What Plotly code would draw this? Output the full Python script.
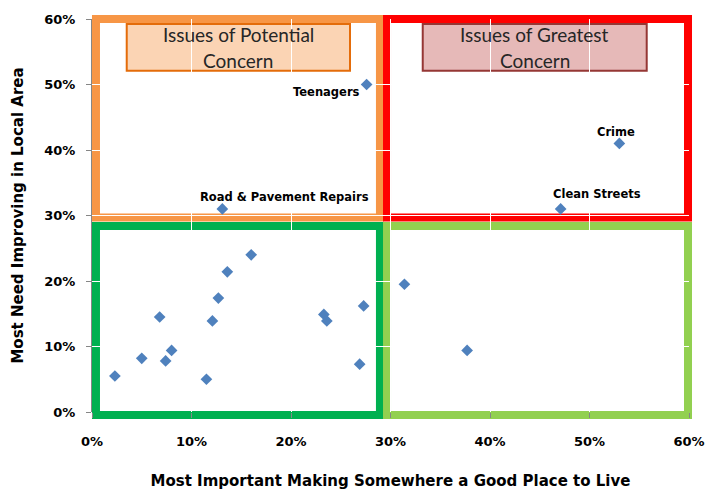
import plotly.graph_objects as go

# Issues named on the chart: share saying "most important" vs "most need improving"
labelled_issues = ["Teenagers", "Road & Pavement Repairs", "Crime", "Clean Streets"]
labelled_importance = [0.276, 0.131, 0.530, 0.471]
labelled_need = [0.500, 0.310, 0.410, 0.310]

# Remaining issues (unlabelled points)
other_importance = [0.023, 0.050, 0.068, 0.074, 0.080, 0.115, 0.121, 0.127,
                    0.136, 0.160, 0.233, 0.236, 0.273, 0.269, 0.314, 0.377]
other_need = [0.055, 0.082, 0.145, 0.078, 0.094, 0.050, 0.139, 0.174,
              0.214, 0.240, 0.149, 0.139, 0.162, 0.073, 0.195, 0.094]

axis_ticks = [0.0, 0.1, 0.2, 0.3, 0.4, 0.5, 0.6]
x_title = "Most Important Making Somewhere a Good Place to Live"
y_title = "Most Need Improving in Local Area"
quadrant_titles = [["Issues of Potential", "Concern"], ["Issues of Greatest", "Concern"]]

SPLIT = 0.30
AX_MAX = 0.60

MARKER = "#4F81BD"
BOLD = dict(family="DejaVu Sans", weight="bold", color="black")


def frac(v):
    """Data value -> fraction of the plotting area (both axes share 0..AX_MAX)."""
    return v / AX_MAX


fig = go.Figure()

all_x = other_importance + labelled_importance
all_y = other_need + labelled_need
fig.add_trace(go.Scatter(
    x=all_x, y=all_y, mode="markers",
    marker=dict(symbol="diamond", size=9, color=MARKER, line=dict(width=0)),
    hoverinfo="x+y", showlegend=False,
))

# Quadrant frames (thick coloured borders); paper refs so the outer half of
# each border is not clipped at the plot edge
lw = 8
in_l, in_r = 0.004, 0.599
gap_l, gap_r = SPLIT - 0.0106, SPLIT - 0.0035
top_lo, bot_hi = SPLIT - 0.003, SPLIT - 0.016
frames = [
    (in_l, gap_l, top_lo, AX_MAX, "#F79646"),
    (gap_r, in_r, top_lo, AX_MAX, "#FF0000"),
    (in_l, gap_l, -0.0046, bot_hi, "#00B050"),
    (gap_r, in_r, -0.0046, bot_hi, "#92D050"),
]
shapes = []
for x0, x1, y0, y1, c in frames:
    shapes.append(dict(type="rect", xref="paper", yref="paper",
                       x0=frac(x0), x1=frac(x1), y0=frac(y0), y1=frac(y1),
                       line=dict(color=c, width=lw), fillcolor="rgba(0,0,0,0)",
                       layer="below"))

# Title boxes in the two upper quadrants
boxes = [
    (0.0349, 0.2593, "#FBD4B4", "#E46C0A"),
    (0.3324, 0.5575, "#E6B9B8", "#953735"),
]
annotations = []
for (x0, x1, fill, edge), lines in zip(boxes, quadrant_titles):
    shapes.append(dict(type="rect", xref="paper", yref="paper",
                       x0=frac(x0), x1=frac(x1), y0=frac(0.5211), y1=frac(0.5924),
                       line=dict(color=edge, width=2), fillcolor=fill, layer="below"))
    xc = (x0 + x1) / 2
    for ln, yy in zip(lines, [0.5756, 0.5374]):
        annotations.append(dict(x=xc, y=yy, xref="x", yref="y", text=ln, showarrow=False,
                                font=dict(family="Lato", size=19, color="#262626"),
                                xanchor="center", yanchor="middle"))

# Point labels
label_place = {
    "Teenagers": dict(xanchor="right", xshift=-5, yshift=-7),
    "Road & Pavement Repairs": dict(xanchor="left", xshift=-24, yshift=12),
    "Crime": dict(xanchor="center", xshift=-3, yshift=11),
    "Clean Streets": dict(xanchor="left", xshift=-10, yshift=15),
}
for name, xv, yv in zip(labelled_issues, labelled_importance, labelled_need):
    annotations.append(dict(x=xv, y=yv, xref="x", yref="y", text=name, showarrow=False,
                            font=dict(BOLD, size=11.5), yanchor="middle", **label_place[name]))

axis_common = dict(
    range=[0, AX_MAX], tickvals=axis_ticks, tickformat=".0%",
    showgrid=True, gridcolor="white", gridwidth=1,
    linecolor="#868686", linewidth=1,
    ticks="outside", ticklen=5, tickcolor="#868686",
    zeroline=False, tickfont=dict(BOLD, size=13),
    fixedrange=True,
)

fig.update_layout(
    width=706, height=491,
    margin=dict(l=92, r=17, t=19, b=79, autoexpand=False),
    paper_bgcolor="white", plot_bgcolor="white",
    shapes=shapes, annotations=annotations,
    xaxis=dict(axis_common, showline=False,
               title=dict(text=x_title, font=dict(BOLD, size=15), standoff=27),
               ticklabelstandoff=12),
    yaxis=dict(axis_common, showline=True,
               title=dict(text=y_title, font=dict(BOLD, size=15), standoff=17),
               ticklabelstandoff=8),
)

fig.write_html("out.html")
